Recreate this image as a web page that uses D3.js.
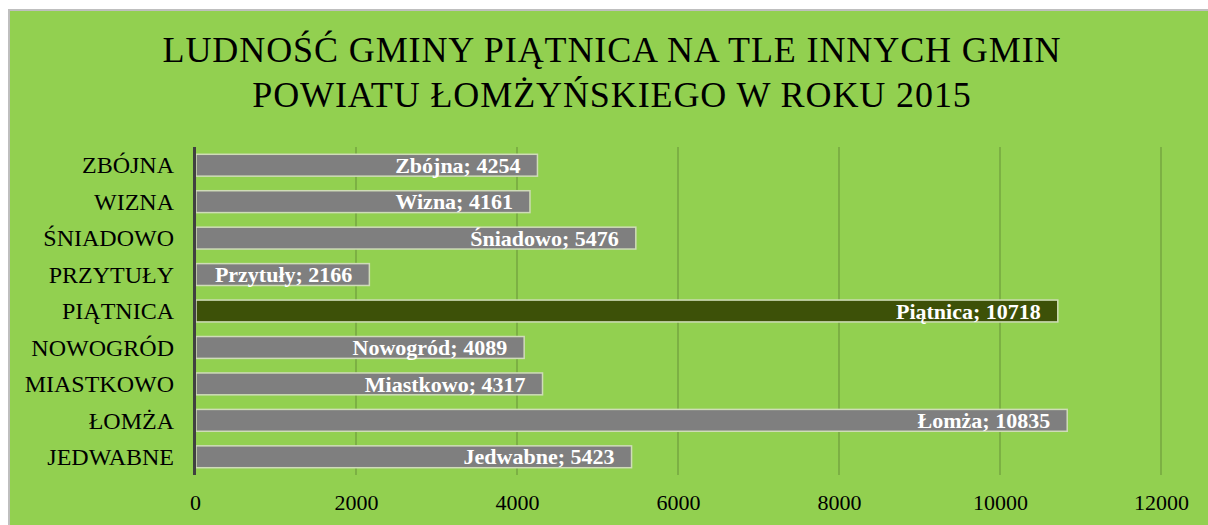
<!DOCTYPE html>
<html>
<head>
<meta charset="utf-8">
<script src="https://cdn.jsdelivr.net/npm/d3@7"></script>
<style>
  html, body { margin: 0; padding: 0; background: #ffffff; }
  svg { display: block; }
</style>
</head>
<body>
<script>
const categories = ["ZBÓJNA", "WIZNA", "ŚNIADOWO", "PRZYTUŁY", "PIĄTNICA", "NOWOGRÓD", "MIASTKOWO", "ŁOMŻA", "JEDWABNE"];
const labelNames = ["Zbójna", "Wizna", "Śniadowo", "Przytuły", "Piątnica", "Nowogród", "Miastkowo", "Łomża", "Jedwabne"];
const values = [4254, 4161, 5476, 2166, 10718, 4089, 4317, 10835, 5423];
const highlight = "PIĄTNICA";
const tickValues = [0, 2000, 4000, 6000, 8000, 10000, 12000];
const titleLines = ["LUDNOŚĆ GMINY PIĄTNICA NA TLE INNYCH GMIN", "POWIATU ŁOMŻYŃSKIEGO W ROKU 2015"];

const W = 1208, H = 525;
const FONT = "'Liberation Serif', 'DejaVu Serif', serif";
const svg = d3.select("body").append("svg").attr("width", W).attr("height", H);

// chart area background with border
svg.append("rect").attr("x", 9).attr("y", 10).attr("width", W).attr("height", H)
  .attr("fill", "#92d050").attr("stroke", "#bfbfbf").attr("stroke-width", 2);

const plot = { left: 195, right: 1161, top: 147, bottom: 475 };
const x = d3.scaleLinear().domain([0, 12000]).range([plot.left, plot.right]);
const y = d3.scaleBand().domain(categories).range([plot.top, plot.bottom]).paddingInner(0.4).paddingOuter(0.2);

// title
svg.append("text").attr("x", 612).attr("y", 62).attr("text-anchor", "middle")
  .attr("font-family", FONT).attr("font-size", 36).attr("letter-spacing", 0.9).attr("fill", "#000")
  .selectAll("tspan").data(titleLines).join("tspan")
  .attr("x", 612).attr("dy", (d, i) => i === 0 ? 0 : 45).text(d => d);

// gridlines
svg.append("g").selectAll("line").data(tickValues.filter(d => d > 0)).join("line")
  .attr("x1", d => x(d)).attr("x2", d => x(d))
  .attr("y1", plot.top).attr("y2", plot.bottom)
  .attr("stroke", "#6e9c3c").attr("stroke-width", 1.2);

// x axis (labels only)
const xAxis = d3.axisBottom(x).tickValues(tickValues).tickSize(0).tickPadding(0).tickFormat(d3.format("d"));
const gx = svg.append("g").attr("transform", `translate(0, ${plot.bottom + 19})`).call(xAxis);
gx.select(".domain").remove();
gx.selectAll("text").attr("font-family", FONT).attr("font-size", 22).attr("fill", "#000").attr("dy", "0.71em");

// y axis labels
const yAxis = d3.axisLeft(y).tickSize(0).tickPadding(21);
const gy = svg.append("g").attr("transform", `translate(${plot.left}, 0)`).call(yAxis);
gy.select(".domain").remove();
gy.selectAll("text").attr("font-family", FONT).attr("font-size", 24).attr("fill", "#000").attr("dy", "0.34em");

// bars
const data = categories.map((c, i) => ({ cat: c, name: labelNames[i], value: values[i] }));
svg.append("g").selectAll("rect").data(data).join("rect")
  .attr("x", x(0) + 1).attr("y", d => y(d.cat))
  .attr("width", d => x(d.value) - x(0) - 1).attr("height", y.bandwidth())
  .attr("fill", d => d.cat === highlight ? "#3d5108" : "#7f7f7f")
  .attr("stroke", "#cfdcb8").attr("stroke-width", 1.5);

// axis line
svg.append("line").attr("x1", plot.left - 0.5).attr("x2", plot.left - 0.5)
  .attr("y1", plot.top).attr("y2", plot.bottom)
  .attr("stroke", "#404040").attr("stroke-width", 3);

// data labels
svg.append("g").selectAll("text").data(data).join("text")
  .attr("x", d => x(d.value) - 17).attr("y", d => y(d.cat) + y.bandwidth() / 2)
  .attr("dy", "0.35em").attr("text-anchor", "end")
  .attr("font-family", FONT).attr("font-size", 22).attr("font-weight", "bold").attr("fill", "#ffffff")
  .text(d => `${d.name}; ${d.value}`);
</script>
</body>
</html>
